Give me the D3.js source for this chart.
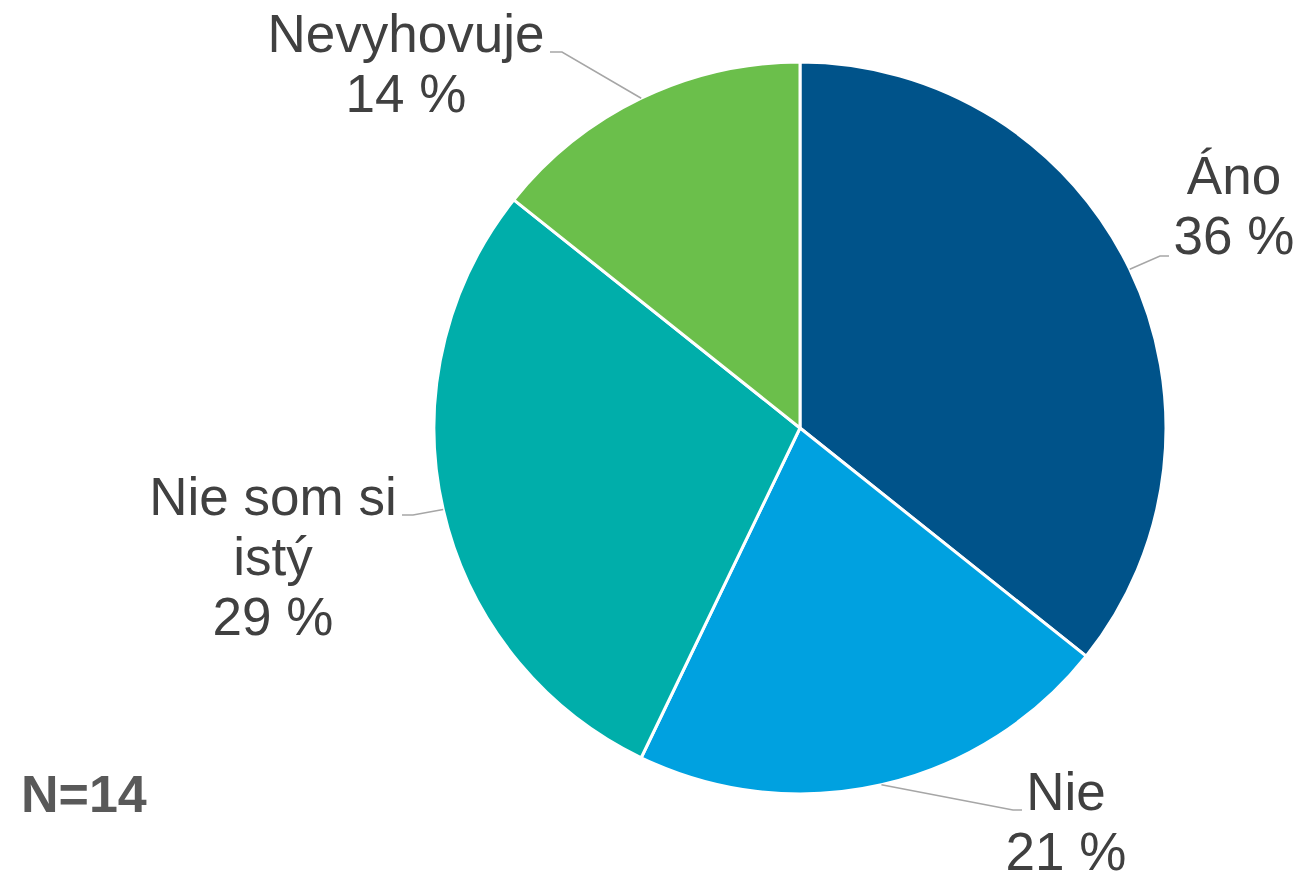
<!DOCTYPE html>
<html>
<head>
<meta charset="utf-8">
<script src="https://cdn.jsdelivr.net/npm/d3@7"></script>
<style>
  html, body { margin: 0; padding: 0; background: #fff; }
  svg { display: block; font-family: "Liberation Sans", Arial, sans-serif; }
</style>
</head>
<body>
<svg id="chart" width="1306" height="876"></svg>
<script>
// ---- data ----
const categories = ["Áno", "Nie", "Nie som si istý", "Nevyhovuje"];
const counts = [5, 3, 4, 2];
const percentLabels = ["36 %", "21 %", "29 %", "14 %"];
const labelLines = [["Áno"], ["Nie"], ["Nie som si", "istý"], ["Nevyhovuje"]];
const colors = ["#00538A", "#00A1E0", "#00AEAA", "#6BBF4B"];
const sampleNote = "N=14";

// ---- layout (positions only) ----
const W = 1306, H = 876;
const cx = 800, cy = 428, R = 366;
const labelLayout = [
  { x: 1234, y: 194, elbow: [1160, 256], end: [1169, 256] },
  { x: 1066, y: 810, elbow: [1013, 810], end: [1022, 810] },
  { x: 273,  y: 515, elbow: [413, 515],  end: [402, 515] },
  { x: 406,  y: 52,  elbow: [562, 52],   end: [550, 52] }
];

const svg = d3.select("#chart");
const g = svg.append("g").attr("transform", `translate(${cx},${cy})`);

const pie = d3.pie().sort(null).value(d => d).startAngle(0).endAngle(2 * Math.PI);
const arcs = pie(counts);
const arc = d3.arc().innerRadius(0).outerRadius(R);
const color = d3.scaleOrdinal().domain(categories).range(colors);

g.selectAll("path.slice")
  .data(arcs)
  .join("path")
  .attr("class", "slice")
  .attr("d", arc)
  .attr("fill", (d, i) => color(categories[i]))
  .attr("stroke", "#fff")
  .attr("stroke-width", 3)
  .attr("stroke-linejoin", "round");

// leader lines (from slice mid-angle on the rim)
const lines = svg.append("g");
arcs.forEach((a, i) => {
  const L = labelLayout[i];
  const ang = (a.startAngle + a.endAngle) / 2;
  const px = cx + R * Math.sin(ang);
  const py = cy - R * Math.cos(ang);
  lines.append("path")
    .attr("d", d3.line()([[px, py], L.elbow, L.end]))
    .attr("fill", "none")
    .attr("stroke", "#A6A6A6")
    .attr("stroke-width", 1.5);
});

// labels
const labels = svg.append("g")
  .attr("font-size", 53)
  .attr("fill", "#404040")
  .attr("text-anchor", "middle");
arcs.forEach((a, i) => {
  const L = labelLayout[i];
  const t = labels.append("text").attr("x", L.x).attr("y", L.y);
  const all = labelLines[i].concat([percentLabels[i]]);
  all.forEach((s, k) => {
    t.append("tspan").attr("x", L.x).attr("dy", k === 0 ? 0 : 60).text(s);
  });
});

svg.append("text")
  .attr("x", 21).attr("y", 812)
  .attr("font-size", 52)
  .attr("font-weight", "bold")
  .attr("fill", "#595959")
  .text(sampleNote);
</script>
</body>
</html>
